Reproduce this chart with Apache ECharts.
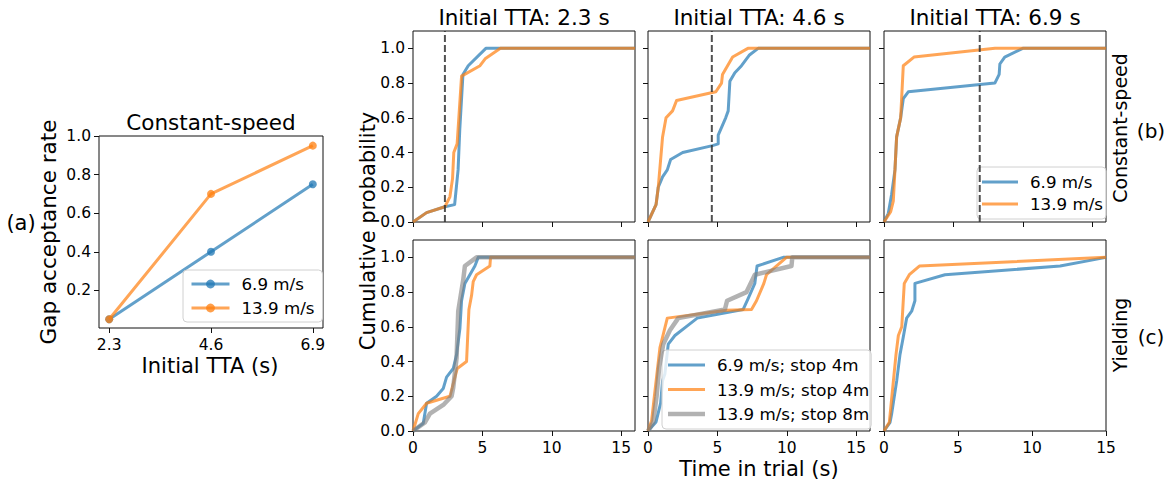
<!DOCTYPE html>
<html><head><meta charset="utf-8">
<script src="https://cdn.jsdelivr.net/npm/echarts@6/dist/echarts.min.js"></script>
<style>html,body{margin:0;padding:0;background:#fff}#c{width:1173px;height:483px}</style>
</head><body><div id="c"></div>
<script>
// ---------- data ----------
const ttaValues = [2.3, 4.6, 6.9];
const accept69 = [0.05, 0.40, 0.75];
const accept139 = [0.05, 0.70, 0.95];

const yTicks = [0, 0.2, 0.4, 0.6, 0.8, 1.0];
const yTicksA = [0.2, 0.4, 0.6, 0.8, 1.0];
const xTicks = [0, 5, 10, 15];

// Constant-speed CDFs [time (s), cumulative probability]
const cs23_69  = [[0,0],[0.98,0.054],[2.3,0.088],[3.0,0.10],[3.25,0.30],[3.37,0.53],[3.6,0.85],[3.98,0.90],[5.25,1.0],[16,1.0]];
const cs23_139 = [[0,0],[0.98,0.054],[2.3,0.088],[2.66,0.145],[2.85,0.25],[2.94,0.40],[3.18,0.45],[3.5,0.84],[4.83,0.90],[5.2,0.94],[6.3,1.0],[16,1.0]];
const cs46_69  = [[0,0],[0.58,0.1],[0.74,0.2],[1.05,0.26],[1.39,0.30],[1.63,0.36],[2.5,0.40],[4.65,0.44],[5.06,0.45],[5.06,0.50],[5.6,0.60],[5.78,0.64],[5.9,0.81],[6.26,0.86],[6.74,0.90],[7.29,0.96],[7.94,1.0],[16,1.0]];
const cs46_139 = [[0,0],[0.58,0.1],[0.74,0.2],[1.05,0.49],[1.3,0.6],[1.77,0.64],[2.06,0.70],[4.89,0.75],[5.3,0.80],[5.37,0.85],[6.1,0.95],[7.2,1.0],[16,1.0]];
const cs69_69  = [[0,0],[0.31,0.05],[0.55,0.16],[0.79,0.30],[0.91,0.49],[1.2,0.6],[1.39,0.71],[1.75,0.75],[7.99,0.80],[8.3,0.85],[8.35,0.91],[8.7,0.95],[10.0,1.0],[16,1.0]];
const cs69_139 = [[0,0],[0.48,0.06],[0.67,0.12],[0.79,0.30],[0.91,0.49],[1.2,0.6],[1.39,0.9],[2.16,0.95],[8.0,1.0],[16,1.0]];

// Yielding CDFs
const y23_69    = [[0,0],[0.74,0.044],[0.98,0.16],[1.7,0.2],[2.18,0.245],[2.42,0.31],[2.9,0.36],[3.14,0.44],[3.38,0.59],[3.5,0.75],[3.74,0.85],[4.1,0.9],[4.46,0.95],[4.7,1.0],[16,1.0]];
const y23_139   = [[0,0],[0.38,0.1],[0.98,0.16],[2.66,0.2],[3.19,0.36],[3.86,0.4],[4.03,0.7],[4.22,0.78],[4.34,0.86],[4.58,0.9],[5.54,0.95],[5.59,1.0],[16,1.0]];
const y23_139s8 = [[0,0],[0.86,0.05],[1.22,0.1],[2.18,0.15],[2.78,0.2],[2.9,0.25],[3.14,0.42],[3.26,0.69],[3.62,0.87],[3.74,0.95],[4.58,1.0],[16,1.0]];
const y46_69    = [[0,0],[0.58,0.052],[0.91,0.16],[1.05,0.29],[1.22,0.33],[1.46,0.5],[1.94,0.55],[2.9,0.61],[3.55,0.65],[6.86,0.70],[7.2,0.76],[7.7,0.85],[7.86,0.95],[9.74,1.0],[16,1.0]];
const y46_139   = [[0,0],[0.26,0.06],[0.5,0.23],[0.86,0.48],[1.05,0.54],[1.39,0.65],[5.66,0.695],[7.46,0.70],[7.82,0.75],[8.35,0.85],[8.54,0.9],[9.98,1.0],[16,1.0]];
const y46_139s8 = [[0,0],[0.38,0.05],[0.62,0.2],[0.81,0.37],[1.1,0.5],[1.58,0.58],[2.18,0.65],[5.54,0.70],[5.7,0.75],[7.1,0.8],[7.7,0.9],[10.34,0.95],[10.4,1.0],[16,1.0]];
const y69_69    = [[0,0],[0.41,0.05],[0.52,0.1],[0.86,0.29],[1.08,0.44],[1.3,0.54],[1.53,0.65],[1.87,0.69],[2.09,0.75],[2.09,0.85],[4.12,0.9],[11.9,0.95],[15,1.0]];
const y69_139   = [[0,0],[0.36,0.05],[0.81,0.44],[0.97,0.55],[1.2,0.6],[1.37,0.85],[1.71,0.9],[2.39,0.95],[15,1.0]];

const legendText = {
  A69: '6.9 m/s', A139: '13.9 m/s',
  B69: '6.9 m/s', B139: '13.9 m/s',
  C69: '6.9 m/s; stop 4m', C139: '13.9 m/s; stop 4m', C139s8: '13.9 m/s; stop 8m'
};

// ---------- styling ----------
const FONT = 'DejaVu Sans';
const BLUE = '#1f77b4', ORANGE = '#ff7f0e', GRAY = '#7f7f7f';
const TICK_FS = 15.5;

const gridBoxes = [
  {left: 99, top: 136, width: 224, height: 192},
  {left: 413, top: 31, width: 222, height: 191},
  {left: 648, top: 31, width: 222, height: 191},
  {left: 884, top: 31, width: 222, height: 191},
  {left: 413, top: 240, width: 222, height: 191},
  {left: 648, top: 240, width: 222, height: 191},
  {left: 884, top: 240, width: 222, height: 191}
];

const grid = gridBoxes.map(g => Object.assign({show: true, borderColor: '#111', borderWidth: 1, backgroundColor: 'transparent', containLabel: false}, g));

function axisBase(show, ticks, fmt) {
  return {
    type: 'value',
    axisLine: {show: false},
    splitLine: {show: false},
    axisTick: {show: true, inside: false, length: 5, customValues: ticks, lineStyle: {color: '#111', width: 1}},
    axisLabel: {show: show, customValues: ticks, color: '#000', fontFamily: FONT, fontSize: TICK_FS, margin: 8, formatter: fmt}
  };
}
const f1 = v => Number(v).toFixed(1);
const f0 = v => String(Math.round(v));

const xAxis = [], yAxis = [];
xAxis.push(Object.assign(axisBase(true, ttaValues, f1), {gridIndex: 0, min: 2.07, max: 7.13}));
yAxis.push(Object.assign(axisBase(true, yTicksA, f1), {gridIndex: 0, min: 0.005, max: 1.0}));
for (let i = 1; i <= 6; i++) {
  const bottom = i >= 4;
  xAxis.push(Object.assign(axisBase(bottom, xTicks, f0), {gridIndex: i, min: 0, max: i === 6 ? 15 : 16}));
  yAxis.push(Object.assign(axisBase(i === 1 || i === 4, yTicks, f1), {gridIndex: i, min: 0, max: 1.1}));
}
xAxis.forEach(a => { a.axisLabel.margin = 9; });

function cdf(name, idx, data, color, width, z, op) {
  return {
    type: 'line', name: name, xAxisIndex: idx, yAxisIndex: idx, data: data,
    symbol: 'none', showSymbol: false, silent: true, clip: true, z: z,
    lineStyle: {color: color, width: width, opacity: op || 0.7, join: 'round'},
    itemStyle: {color: color, opacity: op || 0.7},
    emphasis: {disabled: true}
  };
}
function dashed(idx, tta) {
  return {
    type: 'line', name: 'tta', xAxisIndex: idx, yAxisIndex: idx,
    data: [[tta, 0], [tta, 1.1]], symbol: 'none', silent: true, z: 5,
    lineStyle: {color: '#333', width: 2, type: [7, 3], opacity: 0.85},
    emphasis: {disabled: true}
  };
}

const series = [];
// panel (a)
[['A69', accept69, BLUE], ['A139', accept139, ORANGE]].forEach(([n, vals, c], k) => {
  series.push({
    type: 'line', name: n, xAxisIndex: 0, yAxisIndex: 0,
    data: ttaValues.map((t, i) => [t, vals[i]]),
    symbol: 'circle', symbolSize: 8, showSymbol: true, silent: true, z: 2 + k,
    lineStyle: {color: c, width: 3, opacity: 0.7, join: 'round'},
    itemStyle: {color: c, opacity: 0.75},
    emphasis: {disabled: true}
  });
});
// constant speed
const csData = [[cs23_69, cs23_139], [cs46_69, cs46_139], [cs69_69, cs69_139]];
csData.forEach((pair, k) => {
  series.push(cdf('B69', k + 1, pair[0], BLUE, 3, 2));
  series.push(cdf('B139', k + 1, pair[1], ORANGE, 3, 3));
  series.push(dashed(k + 1, ttaValues[k]));
});
// yielding
const yData = [[y23_69, y23_139, y23_139s8], [y46_69, y46_139, y46_139s8], [y69_69, y69_139, null]];
yData.forEach((tri, k) => {
  series.push(cdf('C69', k + 4, tri[0], BLUE, 3, 2));
  series.push(cdf('C139', k + 4, tri[1], ORANGE, 3, 3));
  if (tri[2]) series.push(cdf('C139s8', k + 4, tri[2], GRAY, 4.5, 4, 0.6));
});

function legend(data, left, top, gap, pad, fs, lh, extra) {
  return Object.assign({
    data: data, left: left, top: top, orient: 'vertical', selectedMode: false,
    itemWidth: 37, itemHeight: 14, itemGap: gap,
    padding: pad, borderColor: '#d0d0d0', borderWidth: 1, borderRadius: 4,
    backgroundColor: 'rgba(255,255,255,0.8)',
    formatter: n => legendText[n],
    textStyle: {color: '#000', fontFamily: FONT, fontSize: fs, lineHeight: lh, padding: [0, 0, 0, 7]}
  }, extra || {});
}
const lineIcon = w => 'path://M0,0H37V' + w + 'H0Z';

function txt(text, x, y, size, rot) {
  return {
    type: 'text', x: x, y: y, rotation: rot ? Math.PI / 2 : 0, silent: true,
    style: {text: text, fill: '#000', font: size + 'px "' + FONT + '"', align: 'center', verticalAlign: 'middle'}
  };
}

const colCenters = [1, 2, 3].map(i => gridBoxes[i].left + gridBoxes[i].width / 2);
const graphic = [
  txt('Constant-speed', 211, 122, 21.5),
  txt('Gap acceptance rate', 48, 232, 21.5, true),
  txt('(a)', 21, 223, 21),
  txt('Initial TTA (s)', 210, 366, 21),
  txt('Cumulative probability', 368, 231, 21, true),
  txt('Time in trial (s)', 759, 469, 21),
  txt('Constant-speed', 1120, 128, 19, true),
  txt('(b)', 1151, 131, 20),
  txt('Yielding', 1120, 335, 19, true),
  txt('(c)', 1151, 337, 20)
].concat(ttaValues.map((v, k) => txt('Initial TTA: ' + v + ' s', colCenters[k], 17, 21.5)));

const option = {
  animation: false,
  backgroundColor: '#fff',
  grid: grid, xAxis: xAxis, yAxis: yAxis, series: series,
  legend: [
    legend(['A69', 'A139'], 183, 270, 4, [4, 8, 4, 7], 16.7, 20,
      {itemWidth: 38, itemHeight: 11, lineStyle: {width: 3}}),
    legend([{name: 'B69', icon: lineIcon(3)}, {name: 'B139', icon: lineIcon(3)}], 977, 167, 2, [5, 3, 5, 5], 16.7, 20,
      {itemWidth: 36}),
    legend([{name: 'C69', icon: lineIcon(3)}, {name: 'C139', icon: lineIcon(3)}, {name: 'C139s8', icon: lineIcon(4.5)}], 662, 350, 4.5, [5, 2, 5, 6], 16.7, 20)
  ],
  graphic: graphic
};

const chart = echarts.init(document.getElementById('c'), null, {renderer: 'svg'});
chart.setOption(option);
</script>
</body></html>
